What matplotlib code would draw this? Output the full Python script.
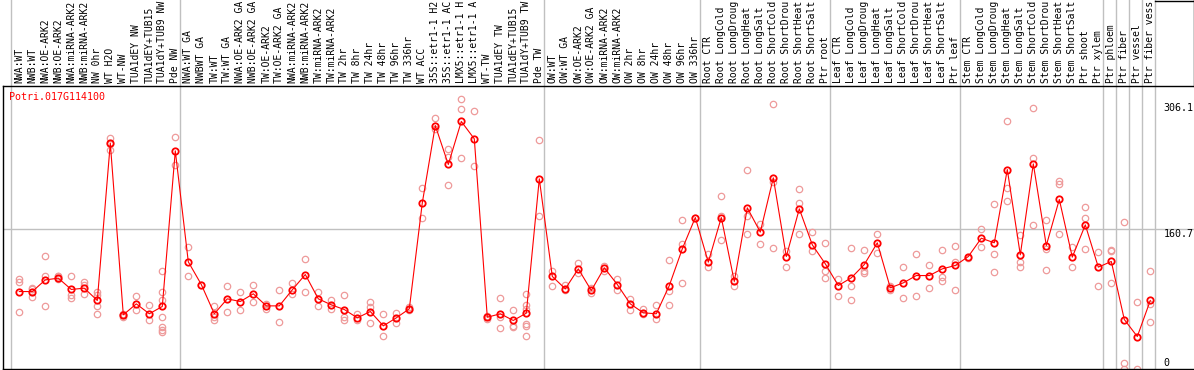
import matplotlib
matplotlib.use('Agg')
import matplotlib.pyplot as plt
from matplotlib.lines import Line2D
from matplotlib.transforms import blended_transform_factory

gene = 'Potri.017G114100'

# labels as far as they are visible in the header band
labels = ['NWA:WT', 'NWB:WT', 'NWA:OE-ARK2', 'NWB:OE-ARK2', 'NWA:miRNA-ARK2',
          'NWB:miRNA-ARK2', 'NW 0hr', 'WT H2O', 'WT-NW', 'TUA1dEY NW',
          'TUA1dEY+TUB15', 'TUA1dY+TUB9 NW', 'Pde NW', 'NWA:WT GA', 'NWBWT GA',
          'TW:WT', 'TW:WT GA', 'NWA:OE-ARK2 GA', 'NWB:OE-ARK2 GA', 'TW:OE-ARK2',
          'TW:OE-ARK2 GA', 'NWA:miRNA-ARK2', 'NWB:miRNA-ARK2', 'TW:miRNA-ARK2', 'TW:miRNA-ARK2',
          'TW 2hr', 'TW 8hr', 'TW 24hr', 'TW 48hr', 'TW 96hr',
          'TW 336hr', 'WT ACC', '35S::etr1-1 H2', '35S::etr1-1 AC', 'LMX5::etr1-1 H',
          'LMX5::etr1-1 A', 'WT-TW', 'TUA1dEY TW', 'TUA1dEY+TUB15', 'TUA1dY+TUB9 TW',
          'Pde TW', 'OW:WT', 'OW:WT GA', 'OW:OE-ARK2', 'OW:OE-ARK2 GA',
          'OW:miRNA-ARK2', 'OW:miRNA-ARK2', 'OW 2hr', 'OW 8hr', 'OW 24hr',
          'OW 48hr', 'OW 96hr', 'OW 336hr', 'Root CTR', 'Root LongCold',
          'Root LongDroug', 'Root LongHeat', 'Root LongSalt', 'Root ShortCold', 'Root ShortDrou',
          'Root ShortHeat', 'Root ShortSalt', 'Ptr root', 'Leaf CTR', 'Leaf LongCold',
          'Leaf LongDroug', 'Leaf LongHeat', 'Leaf LongSalt', 'Leaf ShortCold', 'Leaf ShortDrou',
          'Leaf ShortHeat', 'Leaf ShortSalt', 'Ptr leaf', 'Stem CTR', 'Stem LongCold',
          'Stem LongDroug', 'Stem LongHeat', 'Stem LongSalt', 'Stem ShortCold', 'Stem ShortDrou',
          'Stem ShortHeat', 'Stem ShortSalt', 'Ptr shoot', 'Ptr xylem', 'Ptr phloem',
          'Ptr fiber', 'Ptr vessel', 'Ptr fiber vess']

means = [88.6, 88.6, 102.0, 104.0, 91.0, 92.5, 78.3, 259.4, 61.8, 74.4,
         63.0, 71.4, 250.6, 122.8, 96.7, 63.0, 80.2, 77.1, 86.0, 72.1,
         72.1, 90.6, 108.2, 80.2, 73.3, 67.9, 58.3, 65.6, 49.1, 58.3,
         68.7, 190.7, 279.7, 234.9, 284.4, 264.4, 59.0, 63.0, 55.3, 63.7,
         218.4, 106.0, 91.7, 114.7, 89.8, 115.9, 96.7, 74.4, 64.1, 63.0,
         95.5, 137.8, 173.8, 122.4, 173.8, 100.2, 185.0, 157.0, 219.5, 128.9,
         183.8, 142.4, 120.5, 95.5, 104.4, 119.7, 144.7, 92.9, 98.6, 107.0,
         107.0, 114.7, 118.6, 128.9, 150.0, 144.7, 229.1, 130.9, 235.6, 141.6,
         194.6, 128.2, 165.4, 116.7, 123.2, 56.4, 36.8, 78.3]

reps = [[103.0, 99.4, 65.6], [92.5, 82.1, 91.0], [130.0, 106.0, 71.4], [107.0, 103.0, 106.0],
        [107.0, 85.0, 81.4], [99.4, 96.3, 86.0], [88.0, 85.0, 72.5, 62.2], [265.0, 251.7, 259.0],
        [61.8, 59.0, 63.0], [83.0, 66.8], [73.3, 55.3], [111.7, 88.6, 79.0, 59.0, 47.6, 44.5, 41.8],
        [266.0, 234.5], [139.7, 106.7], [96.7], [71.4, 59.0, 55.3],
        [95.2, 65.6], [87.5, 66.8], [96.7, 76.4], [74.4, 68.7],
        [89.8, 54.1], [98.2, 85.2], [126.3, 88.6], [88.6, 72.5],
        [79.4, 68.7], [84.8, 59.0, 56.4], [63.0, 55.3], [76.4, 70.6, 52.6],
        [62.2, 37.2], [64.1, 52.6], [66.8, 70.6], [208.0, 173.5],
        [288.6, 276.0], [252.9, 210.7, 243.3], [310.5, 298.2, 242.5], [296.3, 233.7],
        [57.0, 61.0], [81.4, 59.0, 46.8], [66.8, 49.5, 47.6], [85.2, 73.3, 68.7, 51.4, 48.4, 37.2],
        [263.3, 175.0], [112.8, 95.5], [96.3, 89.8], [121.3, 109.7],
        [92.9, 86.7], [117.8, 112.8], [102.5, 89.8], [80.2, 67.9],
        [68.7, 62.2], [73.3, 57.2], [125.1, 89.0, 73.3], [171.2, 143.5, 98.6],
        [173.8], [132.0, 116.7], [198.8, 176.1, 147.4], [107.0, 95.5],
        [228.0, 175.0, 154.3], [166.5, 143.5], [304.7, 214.5, 138.9], [135.8, 116.7],
        [206.8, 190.7, 155.0], [157.7, 135.8], [144.7, 112.8, 104.4], [103.2, 82.9],
        [138.9, 95.2, 78.3], [136.6, 112.8, 109.7], [154.3, 133.2], [95.5, 90.0],
        [117.4, 81.4], [132.0, 84.0], [118.6, 92.9], [136.6, 105.1, 100.5],
        [141.6, 122.4, 90.6], [127.0], [160.8, 139.7], [189.6, 132.0, 110.9],
        [284.7, 207.6, 192.3], [153.9, 122.4, 117.4], [300.1, 242.5, 165.4], [170.4, 137.8, 113.6],
        [215.7, 212.6, 155.0], [140.4, 117.4], [186.5, 173.1, 138.1], [133.9, 95.2],
        [136.6, 135.0, 98.2], [169.0, 5.9, 0.0], [76.7, 0.0], [112.7, 74.7, 53.2]]

# last sample index of each group (gray separators drawn right after them)
group_ends = [-1, 12, 40, 52, 62, 72, 83, 84, 85, 86, 87]
y_ticks = [306.1, 160.7, 0]

W, H = 1194, 370
fig = plt.figure(figsize=(W / 100, H / 100), dpi=100)
plot_top, plot_bot, plot_left = 85.7, 368.5, 2.5
ax = fig.add_axes([plot_left / W, (H - plot_bot) / H, (W - plot_left) / W, (plot_bot - plot_top) / H])

mono = 'DejaVu Sans Mono'
x = list(range(len(labels)))

ax.set_xlim((plot_left - 19.3) / 13, (W - 19.3) / 13)
ax.set_ylim(0, (plot_bot - plot_top) / 0.8686)

# group separators run through the label band too
ext = plot_bot / (plot_bot - plot_top)
for g in group_ends:
    ax.axvline(g + 0.385, ymin=0, ymax=ext, color='#c0c0c0', lw=1.0, clip_on=False, zorder=1)
ax.axhline(160.7, color='#c0c0c0', lw=1.0, zorder=1)

# replicates
for i, r in enumerate(reps):
    ax.plot([i] * len(r), r, 'o', ms=4.6, mfc='none', mec='#ee9a9a', mew=0.9, zorder=2)
# means
ax.plot(x, means, '-', color='red', lw=0.8, zorder=3)
ax.plot(x, means, 'o', ms=4.6, mfc='none', mec='red', mew=1.3, zorder=4)

for s in ['left', 'bottom', 'top']:
    ax.spines[s].set_color('black')
    ax.spines[s].set_linewidth(1.0)
ax.spines['right'].set_visible(False)
ax.set_xticks([])
ax.set_yticks([])

# sample labels, vertical, above the plot
for i, lab in enumerate(labels):
    ax.text(i, 1 + 2.5 / (plot_bot - plot_top), lab, transform=ax.get_xaxis_transform(),
            rotation=90, ha='center', va='bottom', family=mono, fontsize=7.0, color='black')

# value labels on the right
tx = (1163.3 - plot_left) / (W - plot_left)
tr = blended_transform_factory(ax.transAxes, ax.transData)
for v in y_ticks:
    ax.text(tx, v, '%g' % v, transform=tr, ha='left',
            va='bottom' if v == 0 else 'top', family=mono, fontsize=7.2)

fig.text(9.3 / W, 1 - 96.7 / H, gene, color='red', family=mono, fontsize=7.2, ha='left', va='center')

# small frame at the top right corner
fig.add_artist(Line2D([1193.5 / W, 1193.5 / W], [1, 1 - plot_top / H], color='black', lw=1.0))
fig.add_artist(Line2D([1155 / W, 1], [1 - 0.5 / H, 1 - 0.5 / H], color='black', lw=1.0))

fig.savefig('out.png', dpi=100)
